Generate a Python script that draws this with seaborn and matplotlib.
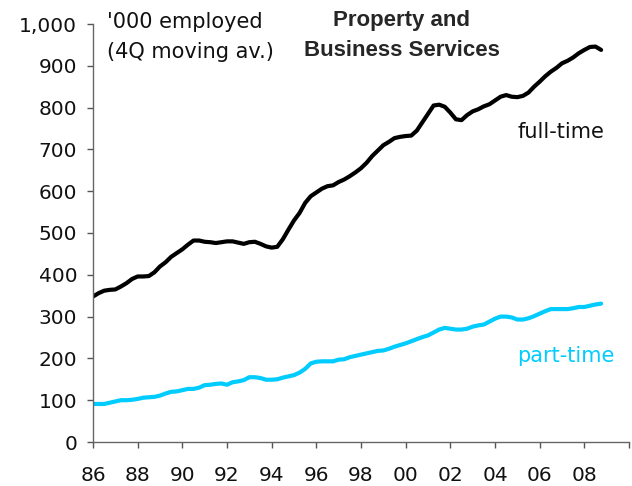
import numpy as np
import pandas as pd
import matplotlib
matplotlib.use('Agg')
import matplotlib.pyplot as plt
import seaborn as sns

sns.set_style('ticks')
plt.rcParams['font.family'] = ['DejaVu Sans']

# 분기 (1986Q1 ~ 2008Q4)
quarters = np.arange(1986, 2009, 0.25)

# 정규직 (천 명, 4분기 이동평균)
full_time = [348, 356, 362, 364, 365, 372, 380, 390, 396, 396, 397, 406,
             420, 430, 443, 452, 461, 472, 482, 482, 479, 478, 476, 478,
             480, 480, 477, 474, 478, 479, 474, 468, 465, 467, 485, 508,
             530, 548, 572, 588, 597, 606, 612, 614, 622, 628, 636, 645,
             655, 668, 684, 697, 710, 718, 727, 730, 732, 733, 745, 765,
             785, 805, 807, 802, 788, 772, 770, 782, 791, 796, 803, 808,
             817, 826, 830, 826, 825, 828, 836, 850, 862, 875, 886, 895,
             906, 912, 920, 930, 938, 945, 946, 938]

# 비정규직
part_time = [91, 91, 91, 94, 97, 100, 100, 101, 103, 106, 107, 108,
             111, 116, 120, 121, 124, 127, 127, 130, 136, 137, 139, 140,
             137, 143, 145, 148, 155, 155, 153, 149, 149, 150, 154, 157,
             160, 166, 175, 188, 192, 193, 193, 193, 197, 198, 203, 206,
             209, 212, 215, 218, 219, 223, 228, 232, 236, 241, 246, 251,
             255, 262, 269, 273, 271, 269, 269, 271, 276, 279, 281, 288,
             295, 300, 300, 298, 293, 293, 296, 301, 307, 313, 318, 318,
             318, 318, 320, 323, 323, 326, 329, 331]

year_ticks = list(range(1986, 2011, 2))
year_labels = ['86', '88', '90', '92', '94', '96', '98', '00', '02', '04', '06', '08', '']
y_ticks = list(range(0, 1001, 100))

df = pd.DataFrame({'quarter': quarters, 'full': full_time, 'part': part_time})

fig = plt.figure(figsize=(6.32, 4.86), dpi=100)
ax = fig.add_axes([93/632, 1 - 442/486, (629 - 93)/632, (442 - 24)/486])

sns.lineplot(data=df, x='quarter', y='full', color='black', lw=3, ax=ax)
sns.lineplot(data=df, x='quarter', y='part', color='#00CCFF', lw=3, ax=ax)

ax.set_xlim(1986, 2010)
ax.set_ylim(0, 1000)
ax.set_xticks(year_ticks)
ax.set_xticklabels(year_labels)
ax.set_yticks(y_ticks)
ax.set_yticklabels([f'{v:,}' for v in y_ticks])
ax.set_xlabel('')
ax.set_ylabel('')
ax.tick_params(axis='both', labelsize=14.5, length=4.3, width=1, color='#555555',
               labelcolor='#111111')
ax.tick_params(axis='x', pad=13)
ax.tick_params(axis='y', pad=7)
for s in ['top', 'right']:
    ax.spines[s].set_visible(False)
for s in ['left', 'bottom']:
    ax.spines[s].set_color('#666666')
    ax.spines[s].set_linewidth(1)

fig.text(107/632, 1 - 28.5/486, "'000 employed", fontsize=15, va='baseline', ha='left',
         color='#111111')
fig.text(107/632, 1 - 57.5/486, "(4Q moving av.)", fontsize=15, va='baseline', ha='left',
         color='#111111')
fig.text(402/632, 1 - 26/486, 'Property and', fontsize=16, fontweight='bold',
         family='Liberation Sans', va='baseline', ha='center')
fig.text(402/632, 1 - 56/486, 'Business Services', fontsize=16, fontweight='bold',
         family='Liberation Sans', va='baseline', ha='center')
fig.text(517/632, 1 - 137.7/486, 'full-time', fontsize=15, va='baseline', ha='left',
         color='#111111')
fig.text(517/632, 1 - 361.7/486, 'part-time', fontsize=15, va='baseline', ha='left',
         color='#00CCFF')

fig.savefig('out.png', dpi=100)
